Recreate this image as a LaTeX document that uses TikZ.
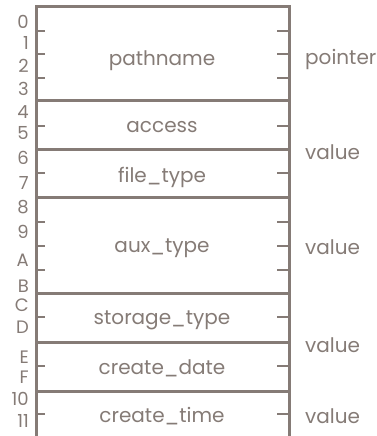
\documentclass[tikz,border=0pt]{standalone}
\usepackage{fontspec}
\setmainfont{Poppins}
\usepackage{tikz}
\usetikzlibrary{positioning}
\definecolor{inkgray}{HTML}{857B76}

\begin{document}
\begin{tikzpicture}[
        x=1pt, y=-1pt,
        field/.style={font=\fontsize{20}{20}\selectfont, text=inkgray,
                      inner sep=0pt, text depth=0pt},
        bytelab/.style={font=\fontsize{18}{18}\selectfont, text=inkgray,
                        inner sep=0pt, text depth=0pt, anchor=east},
        kind/.style={font=\fontsize{20}{20}\selectfont, text=inkgray,
                     inner sep=0pt, text depth=0pt, anchor=west},
        frame/.style={draw=inkgray, line width=3pt},
        tick/.style={draw=inkgray, line width=2.6pt},
    ]
        \useasboundingbox (0,0) rectangle (377,436);

        %--- Marco ---
        \coordinate (tl) at (36,7);
        \coordinate (tr) at (289,7);
        \coordinate (bl) at (36,436);
        \coordinate (br) at (289,436);
        \draw[frame] (bl) -- (tl) -- (tr) -- (br);

        %--- Separadores ---
        \foreach \y in {100,149,197,293,342,391}
            \draw[frame] (36,\y) -- (289,\y);

        %--- Marcas ---
        \foreach \y in {31,54,78,126,173,222,246,270,317,366,414} {
            \draw[tick] (36,\y) -- +(9,0);
            \draw[tick] (289,\y) -- +(-12,0);
        }

        %--- Bytes ---
        \foreach \lab/\y [count=\i] in {0/22,1/43,2/66,3/89,4/112,5/133,6/158,
                7/183,8/207,9/232,A/260,B/286,C/305,D/327,E/357,F/377,10/399,11/421}
            \node[bytelab] (b\i) at (29,\y) {\lab};

        %--- Campos ---
        \node[field] (pathname) at (162,58)  {pathname};
        \node[field] (access)   at (162,127) {access};
        \node[field] (ftype)    at (162,175) {file\_type};
        \node[field] (auxtype)  at (162,246) {aux\_type};
        \node[field] (stype)    at (162,318) {storage\_type};
        \node[field] (cdate)    at (162,367) {create\_date};
        \node[field] (ctime)    at (162,415) {create\_time};

        %--- Tipos ---
        \node[kind] (kptr)  at (305,57)  {pointer};
        \node[kind] (kval1) at (305,152) {value};
        \node[kind] (kval2) at (305,247) {value};
        \node[kind] (kval3) at (305,345) {value};
        \node[kind] (kval4) at (305,416) {value};
    \end{tikzpicture}
\end{document}
